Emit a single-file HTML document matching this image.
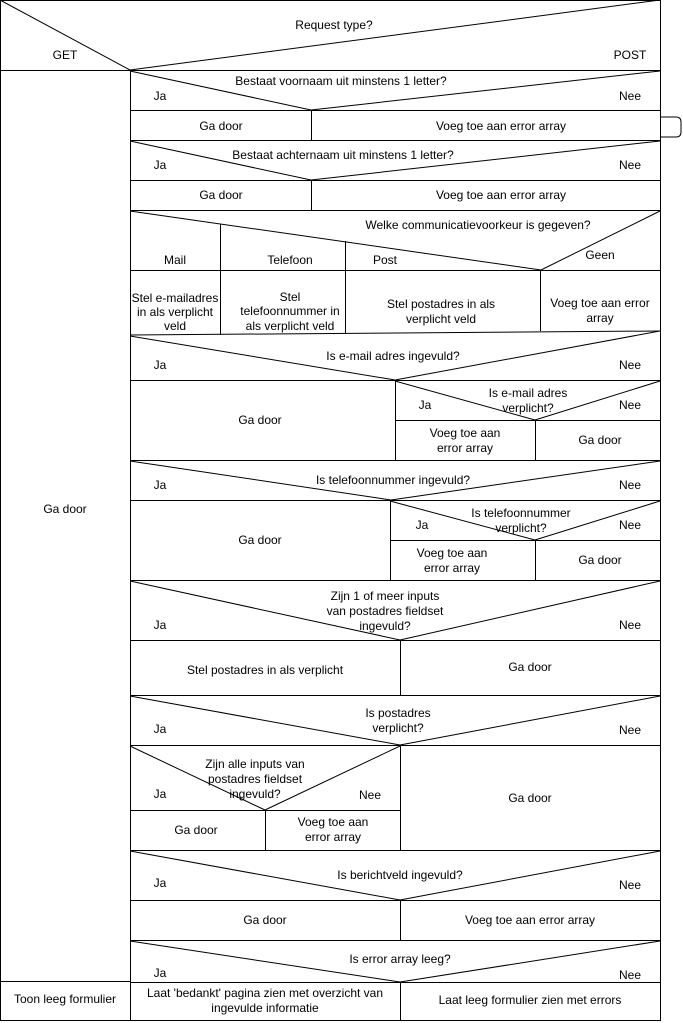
<!DOCTYPE html>
<html><head><meta charset="utf-8"><style>
html,body{margin:0;padding:0;background:#fff;}
svg{display:block;}
text{font-family:"Liberation Sans",Arial,sans-serif;font-size:12px;fill:#000;}
</style></head><body>
<svg width="683" height="1023" viewBox="0 0 683 1023" xmlns="http://www.w3.org/2000/svg">
<g stroke="#000" stroke-width="1" fill="none">
<rect x="0.5" y="0.5" width="660" height="1020"/>
<line x1="0" y1="0" x2="130" y2="70"/>
<line x1="660" y1="0" x2="130" y2="70"/>
<line x1="0" y1="70.5" x2="660" y2="70.5"/>
<line x1="130.5" y1="70" x2="130.5" y2="1020"/>
<line x1="0" y1="981.5" x2="130" y2="981.5"/>
<line x1="130" y1="71" x2="311" y2="110"/>
<line x1="660" y1="71" x2="311" y2="110"/>
<line x1="130" y1="110.5" x2="660" y2="110.5"/>
<line x1="311.5" y1="110" x2="311.5" y2="140"/>
<line x1="130" y1="140.5" x2="660" y2="140.5"/>
<path d="M661 117 H676 Q681 117 681 122 V132 Q681 137 676 137 H661"/>
<line x1="130" y1="141" x2="311" y2="180"/>
<line x1="660" y1="141" x2="311" y2="180"/>
<line x1="130" y1="180.5" x2="660" y2="180.5"/>
<line x1="311.5" y1="180" x2="311.5" y2="210"/>
<line x1="130" y1="210.5" x2="660" y2="210.5"/>
<line x1="130" y1="211" x2="541" y2="270"/>
<line x1="660" y1="211" x2="541" y2="270"/>
<line x1="220.5" y1="224" x2="220.5" y2="335"/>
<line x1="345.5" y1="241" x2="345.5" y2="333"/>
<line x1="130" y1="270.5" x2="660" y2="270.5"/>
<line x1="540.5" y1="270" x2="540.5" y2="331"/>
<line x1="130" y1="335" x2="660" y2="331"/>
<line x1="130" y1="336" x2="395" y2="380"/>
<line x1="660" y1="331" x2="395" y2="380"/>
<line x1="130" y1="380.5" x2="660" y2="380.5"/>
<line x1="395.5" y1="380" x2="395.5" y2="460"/>
<line x1="395" y1="381" x2="535" y2="420"/>
<line x1="660" y1="381" x2="535" y2="420"/>
<line x1="395" y1="420.5" x2="660" y2="420.5"/>
<line x1="535.5" y1="420" x2="535.5" y2="460"/>
<line x1="130" y1="460.5" x2="660" y2="460.5"/>
<line x1="130" y1="461" x2="391" y2="500"/>
<line x1="660" y1="461" x2="391" y2="500"/>
<line x1="130" y1="500.5" x2="660" y2="500.5"/>
<line x1="390.5" y1="500" x2="390.5" y2="580"/>
<line x1="390" y1="501" x2="535" y2="540"/>
<line x1="660" y1="501" x2="535" y2="540"/>
<line x1="390" y1="540.5" x2="660" y2="540.5"/>
<line x1="535.5" y1="540" x2="535.5" y2="580"/>
<line x1="130" y1="580.5" x2="660" y2="580.5"/>
<line x1="130" y1="581" x2="400" y2="640"/>
<line x1="660" y1="581" x2="400" y2="640"/>
<line x1="130" y1="640.5" x2="660" y2="640.5"/>
<line x1="400.5" y1="640" x2="400.5" y2="695"/>
<line x1="130" y1="695.5" x2="660" y2="695.5"/>
<line x1="130" y1="696" x2="400" y2="745"/>
<line x1="660" y1="696" x2="400" y2="745"/>
<line x1="130" y1="745.5" x2="660" y2="745.5"/>
<line x1="400.5" y1="745" x2="400.5" y2="850"/>
<line x1="130" y1="746" x2="265" y2="810"/>
<line x1="400" y1="746" x2="265" y2="810"/>
<line x1="130" y1="810.5" x2="400" y2="810.5"/>
<line x1="265.5" y1="810" x2="265.5" y2="850"/>
<line x1="130" y1="850.5" x2="660" y2="850.5"/>
<line x1="130" y1="851" x2="400" y2="900"/>
<line x1="660" y1="851" x2="400" y2="900"/>
<line x1="130" y1="900.5" x2="660" y2="900.5"/>
<line x1="400.5" y1="900" x2="400.5" y2="940"/>
<line x1="130" y1="940.5" x2="660" y2="940.5"/>
<line x1="130" y1="941" x2="400" y2="982"/>
<line x1="660" y1="941" x2="400" y2="982"/>
<line x1="130" y1="982.5" x2="660" y2="982.5"/>
<line x1="400.5" y1="982" x2="400.5" y2="1020"/>
</g>
<g text-anchor="middle">
<text x="334" y="29">Request type?</text>
<text x="65" y="59">GET</text>
<text x="630" y="59">POST</text>
<text x="65" y="513">Ga door</text>
<text x="65" y="1003">Toon leeg formulier</text>

<text x="341" y="85">Bestaat voornaam uit minstens 1 letter?</text>
<text x="160" y="100">Ja</text><text x="630" y="100">Nee</text>
<text x="221" y="130">Ga door</text>
<text x="501" y="130">Voeg toe aan error array</text>

<text x="343" y="159">Bestaat achternaam uit minstens 1 letter?</text>
<text x="160" y="169">Ja</text><text x="630" y="169">Nee</text>
<text x="221" y="199">Ga door</text>
<text x="501" y="199">Voeg toe aan error array</text>

<text x="478" y="229">Welke communicatievoorkeur is gegeven?</text>
<text x="175" y="264">Mail</text>
<text x="290" y="264">Telefoon</text>
<text x="385" y="264">Post</text>
<text x="600" y="259">Geen</text>
<text x="175" y="302">Stel e-mailadres</text>
<text x="175" y="316">in als verplicht</text>
<text x="175" y="330">veld</text>
<text x="290" y="301">Stel</text>
<text x="290" y="315">telefoonnummer in</text>
<text x="290" y="330">als verplicht veld</text>
<text x="441" y="308">Stel postadres in als</text>
<text x="441" y="323">verplicht veld</text>
<text x="600" y="307">Voeg toe aan error</text>
<text x="600" y="322">array</text>

<text x="393" y="360">Is e-mail adres ingevuld?</text>
<text x="160" y="369">Ja</text><text x="630" y="369">Nee</text>
<text x="260" y="424">Ga door</text>
<text x="425" y="409">Ja</text><text x="630" y="409">Nee</text>
<text x="528" y="397">Is e-mail adres</text>
<text x="528" y="412">verplicht?</text>
<text x="465" y="437">Voeg toe aan</text>
<text x="465" y="452">error array</text>
<text x="600" y="444">Ga door</text>

<text x="393" y="484">Is telefoonnummer ingevuld?</text>
<text x="160" y="489">Ja</text><text x="630" y="489">Nee</text>
<text x="260" y="544">Ga door</text>
<text x="422" y="529">Ja</text><text x="630" y="529">Nee</text>
<text x="521" y="517">Is telefoonnummer</text>
<text x="521" y="532">verplicht?</text>
<text x="452" y="557">Voeg toe aan</text>
<text x="452" y="572">error array</text>
<text x="600" y="564">Ga door</text>

<text x="385" y="600">Zijn 1 of meer inputs</text>
<text x="385" y="615">van postadres fieldset</text>
<text x="385" y="630">ingevuld?</text>
<text x="160" y="629">Ja</text><text x="630" y="629">Nee</text>
<text x="265" y="674">Stel postadres in als verplicht</text>
<text x="530" y="671">Ga door</text>

<text x="398" y="717">Is postadres</text>
<text x="398" y="732">verplicht?</text>
<text x="160" y="733">Ja</text><text x="630" y="734">Nee</text>
<text x="255" y="768">Zijn alle inputs van</text>
<text x="255" y="783">postadres fieldset</text>
<text x="255" y="798">ingevuld?</text>
<text x="160" y="798">Ja</text><text x="370" y="799">Nee</text>
<text x="530" y="802">Ga door</text>
<text x="196" y="834">Ga door</text>
<text x="333" y="826">Voeg toe aan</text>
<text x="333" y="841">error array</text>

<text x="400" y="879">Is berichtveld ingevuld?</text>
<text x="160" y="887">Ja</text><text x="630" y="889">Nee</text>
<text x="265" y="924">Ga door</text>
<text x="530" y="924">Voeg toe aan error array</text>

<text x="400" y="963">Is error array leeg?</text>
<text x="160" y="977">Ja</text><text x="630" y="979">Nee</text>
<text x="265" y="997">Laat 'bedankt' pagina zien met overzicht van</text>
<text x="265" y="1012">ingevulde informatie</text>
<text x="530" y="1004">Laat leeg formulier zien met errors</text>
</g>
</svg>
</body></html>
